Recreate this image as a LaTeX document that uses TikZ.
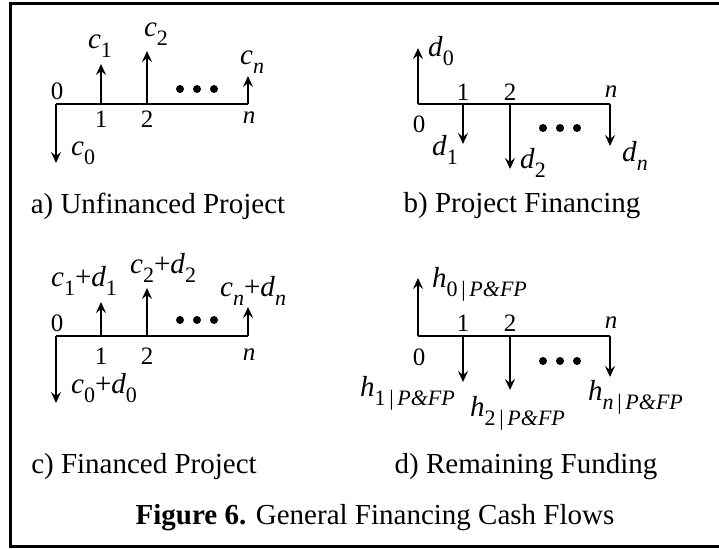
\documentclass[tikz,border=0pt]{standalone}
\usepackage{fontspec}
\setmainfont{Liberation Serif}
\usetikzlibrary{arrows.meta}
% cash-flow symbol with a lowered subscript
\newcommand\flow[2]{\textit{#1}\raisebox{-0.32em}{\fontsize{22pt}{22pt}\selectfont #2}}
\newcommand\pfp{\,|\,\textit{P\&FP}}
\begin{document}
\begin{tikzpicture}[x=1pt,y=-1pt,
  axisline/.style={line width=2pt},
  cf/.style={line width=2pt,-{Stealth[length=11pt,width=10pt,inset=4pt]}},
  lbl/.style={inner sep=0pt,font=\fontsize{29pt}{31pt}\selectfont},
  ticklbl/.style={inner sep=0pt,font=\fontsize{25pt}{27pt}\selectfont},
  dotmark/.style={circle,fill,inner sep=0pt,minimum size=8pt},
  captext/.style={inner sep=0pt,font=\fontsize{29pt}{31pt}\selectfont}]
\useasboundingbox (0,0) rectangle (719,548);
\clip (0,0) rectangle (719,548);
\draw[line width=3pt] (10,4) rectangle (730,546.5);

% ---- a) unfinanced project
\coordinate (a0) at (56,104); \coordinate (a1) at (101,104);
\coordinate (a2) at (147,104); \coordinate (an) at (248,104);
\coordinate (a0e) at (56,163); \coordinate (a1e) at (101,64);
\coordinate (a2e) at (147,51); \coordinate (ane) at (248,76);
\draw[axisline] (a0) -- (an);
\draw[cf] (a0) -- (a0e);
\draw[cf] (a1) -- (a1e);
\draw[cf] (a2) -- (a2e);
\draw[cf] (an) -- (ane);
\node[ticklbl] (at0) at (57,91) {0};
\node[ticklbl] (at1) at (101,119) {1};
\node[ticklbl] (at2) at (147,119) {2};
\node[ticklbl] (atn) at (249,118) {\textit{n}};
\node[lbl,anchor=west] (ac0) at (71,153) {\flow{c}{0}};
\node[lbl] (ac1) at (100,46) {\flow{c}{1}};
\node[lbl] (ac2) at (156,34) {\flow{c}{2}};
\node[lbl,anchor=west] (acn) at (240,62) {\flow{c}{\textit{n}}};
\node[dotmark] (ad1) at (180,89) {}; \node[dotmark] (ad2) at (197,89) {}; \node[dotmark] (ad3) at (214,89) {};
\node[captext] (capa) at (158,206) {a) Unfinanced Project};

% ---- b) project financing
\coordinate (b0) at (418,104); \coordinate (b1) at (463,104);
\coordinate (b2) at (510,104); \coordinate (bn) at (610,104);
\coordinate (b0e) at (418,48); \coordinate (b1e) at (463,144);
\coordinate (b2e) at (510,169); \coordinate (bne) at (610,146);
\draw[axisline] (b0) -- (bn);
\draw[cf] (b0) -- (b0e);
\draw[cf] (b1) -- (b1e);
\draw[cf] (b2) -- (b2e);
\draw[cf] (bn) -- (bne);
\node[ticklbl] (bt0) at (419,124) {0};
\node[ticklbl] (bt1) at (463,92) {1};
\node[ticklbl] (bt2) at (510,92) {2};
\node[ticklbl] (btn) at (611,92) {\textit{n}};
\node[lbl,anchor=west] (bd0) at (428,51) {\flow{d}{0}};
\node[lbl,anchor=east] (bd1) at (458,150) {\flow{d}{1}};
\node[lbl,anchor=west] (bd2) at (520,163) {\flow{d}{2}};
\node[lbl,anchor=west] (bdn) at (622,156) {\flow{d}{\textit{n}}};
\node[dotmark] (bd1x) at (543,128) {}; \node[dotmark] (bd2x) at (560,128) {}; \node[dotmark] (bd3x) at (577,128) {};
\node[captext] (capb) at (522,206) {b) Project Financing};

% ---- c) financed project
\coordinate (c0) at (56,336); \coordinate (c1) at (101,336);
\coordinate (c2) at (147,336); \coordinate (cn) at (248,336);
\coordinate (c0e) at (56,403); \coordinate (c1e) at (101,302);
\coordinate (c2e) at (147,288); \coordinate (cne) at (248,307);
\draw[axisline] (c0) -- (cn);
\draw[cf] (c0) -- (c0e);
\draw[cf] (c1) -- (c1e);
\draw[cf] (c2) -- (c2e);
\draw[cf] (cn) -- (cne);
\node[ticklbl] (ct0) at (57,323) {0};
\node[ticklbl] (ct1) at (101,356) {1};
\node[ticklbl] (ct2) at (147,356) {2};
\node[ticklbl] (ctn) at (249,355) {\textit{n}};
\node[lbl,anchor=west] (cc0) at (71,388) {\flow{c}{0}+\flow{d}{0}};
\node[lbl,anchor=west] (cc1) at (51,281) {\flow{c}{1}+\flow{d}{1}};
\node[lbl,anchor=west] (cc2) at (130,268) {\flow{c}{2}+\flow{d}{2}};
\node[lbl,anchor=west] (ccn) at (220,291) {\flow{c}{\textit{n}}+\flow{d}{\textit{n}}};
\node[dotmark] (cd1) at (180,320) {}; \node[dotmark] (cd2) at (197,320) {}; \node[dotmark] (cd3) at (214,320) {};
\node[captext] (capc) at (144,467) {c) Financed Project};

% ---- d) remaining funding
\coordinate (d0) at (418,336); \coordinate (d1) at (463,336);
\coordinate (d2) at (510,336); \coordinate (dn) at (610,336);
\coordinate (d0e) at (418,278); \coordinate (d1e) at (463,382);
\coordinate (d2e) at (510,390); \coordinate (dne) at (610,377);
\draw[axisline] (d0) -- (dn);
\draw[cf] (d0) -- (d0e);
\draw[cf] (d1) -- (d1e);
\draw[cf] (d2) -- (d2e);
\draw[cf] (dn) -- (dne);
\node[ticklbl] (dt0) at (419,357) {0};
\node[ticklbl] (dt1) at (463,323) {1};
\node[ticklbl] (dt2) at (510,323) {2};
\node[ticklbl] (dtn) at (611,323) {\textit{n}};
\node[lbl,anchor=west] (dh0) at (432,284) {\flow{h}{0\pfp}};
\node[lbl,anchor=east] (dh1) at (455,393) {\flow{h}{1\pfp}};
\node[lbl,anchor=west] (dh2) at (470,413) {\flow{h}{2\pfp}};
\node[lbl,anchor=west] (dhn) at (588,397) {\flow{h}{\textit{n}\pfp}};
\node[dotmark] (dd1) at (543,361) {}; \node[dotmark] (dd2) at (560,361) {}; \node[dotmark] (dd3) at (577,361) {};
\node[captext] (capd) at (526,467) {d) Remaining Funding};

% ---- figure caption
\node[captext] (fig) at (375,518) {\textbf{Figure 6.} General Financing Cash Flows};
\end{tikzpicture}
\end{document}
